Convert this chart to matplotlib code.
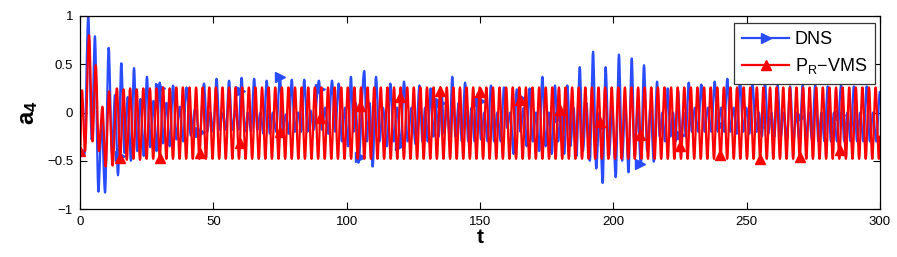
import numpy as np
import matplotlib
matplotlib.use("Agg")
import matplotlib.pyplot as plt
from matplotlib.path import Path
from matplotlib.patches import PathPatch
from matplotlib.lines import Line2D

plt.rcParams['font.family'] = ['Liberation Sans', 'DejaVu Sans']
plt.rcParams['mathtext.fontset'] = 'custom'
plt.rcParams['mathtext.rm'] = 'Liberation Sans'
plt.rcParams['mathtext.bf'] = 'Liberation Sans:bold'

# ---------------- DNS (blue) : extrema ----------------
dns_t = [0.0, 1.6, 3.1, 4.4, 5.6, 6.9, 8.1, 9.4,
         10.75, 12.0, 13.1, 14.25, 15.5, 16.7, 17.9, 19.1,
         20.25, 21.45, 22.7, 23.9, 25.1, 26.3, 27.5, 28.7,
         29.9, 31.15, 32.4, 33.65, 34.9, 36.15, 37.4, 38.65,
         39.9, 41.55, 43.2, 44.85, 46.5, 47.68, 48.85, 50.03,
         51.2, 52.38, 53.55, 54.73, 55.9, 57.08, 58.25, 59.43,
         60.6, 61.78, 62.95, 64.13, 65.3, 66.48, 67.65, 68.83,
         70.0, 71.18, 72.35, 73.53, 75.0, 76.1, 77.2, 78.3,
         79.4, 80.58, 81.75, 82.93, 84.1, 85.28, 86.45, 87.63,
         89.6, 90.78, 91.95, 93.13, 94.5, 95.75, 97.0, 98.2, 99.4, 100.5,
         101.6, 102.6, 103.4, 104.4, 106.6, 107.6, 108.6, 109.75,
         111.0, 112.3, 113.6, 115.1, 116.4, 117.6, 118.9, 120.2,
         121.5, 122.9, 124.3, 125.9, 127.3, 128.4, 129.4, 130.4,
         131.5, 132.5, 133.5, 134.5, 135.6, 136.6, 137.6, 138.6,
         139.6, 140.8, 142.0, 143.2, 144.4, 145.6, 146.8, 148.0,
         149.2, 150.4, 151.6, 152.9, 154.1, 155.3, 156.5, 157.8,
         159.0, 160.2, 161.4, 162.6, 163.8, 165.2, 166.4, 167.5,
         168.6, 169.8, 171.0, 172.2, 173.4, 174.6, 175.8, 176.9,
         178.1, 179.3, 180.4, 181.6, 182.75, 183.9, 185.1, 186.2,
         187.4, 188.6, 189.9, 191.2, 192.4, 193.6, 194.8, 196.0,
         197.1, 198.4, 199.6, 200.9, 202.1, 203.3, 204.5, 205.7,
         206.9, 208.0, 209.1, 210.3, 211.5, 212.7, 213.9, 215.2,
         216.4, 217.4, 218.4, 219.4, 220.4, 221.4, 222.4, 223.3,
         224.3, 225.3, 226.3, 227.2, 228.25, 229.45, 230.6, 231.8,
         233.0, 234.25, 235.5, 236.75, 238.0, 239.2, 240.4, 241.55,
         242.75, 243.9, 245.1, 246.3, 247.5, 248.7, 249.85, 251.0,
         252.2, 253.4, 254.55, 255.7, 256.9, 258.1, 259.25, 260.4,
         261.6, 262.8, 263.95, 265.1, 266.3, 267.5, 268.65, 269.8,
         271.0, 272.2, 273.35, 274.5, 275.7, 276.9, 278.05, 279.2,
         280.4, 281.6, 282.75, 283.9, 285.4, 286.6, 287.8, 289.0,
         290.2, 291.4, 292.6, 293.8, 295.0, 296.2, 297.4, 298.6, 300.0]
dns_y = [-0.40, -0.45, 1.00, -0.28, 0.79, -0.82, -0.10, -0.83,
         0.67, -0.42, 0.18, -0.65, 0.51, -0.42, 0.16, -0.50,
         0.46, -0.40, 0.14, -0.45, 0.37, -0.36, 0.12, -0.40,
         0.31, -0.32, 0.10, -0.35, 0.28, -0.28, 0.06, -0.30,
         0.26, -0.24, 0.04, -0.25, 0.30, -0.20, 0.00, -0.20,
         0.35, -0.18, 0.00, -0.18, 0.33, -0.18, 0.02, -0.18,
         0.36, -0.20, 0.00, -0.20, 0.35, -0.18, 0.00, -0.22,
         0.33, -0.22, 0.00, -0.20, 0.37, -0.20, -0.02, -0.22,
         0.34, -0.20, 0.00, -0.20, 0.34, -0.20, 0.02, -0.18,
         0.33, -0.18, 0.05, -0.22, 0.33, -0.20, 0.30, -0.30, 0.05, -0.35,
         0.37, -0.20, 0.10, -0.52, 0.43, -0.30, 0.10, -0.56,
         0.37, -0.30, 0.05, -0.35, 0.30, -0.30, 0.05, -0.36,
         0.32, -0.30, 0.05, -0.33, 0.28, -0.30, 0.05, -0.30,
         0.25, -0.25, 0.05, -0.25, 0.22, -0.22, 0.05, -0.25,
         0.37, -0.25, 0.10, -0.30, 0.31, -0.30, 0.05, -0.30,
         0.20, -0.28, 0.00, -0.30, 0.28, -0.30, 0.00, -0.30,
         0.26, -0.16, 0.00, -0.43, 0.24, -0.20, 0.05, -0.35,
         0.25, -0.30, 0.00, -0.40, 0.37, -0.35, 0.00, -0.43,
         0.28, -0.30, 0.05, -0.43, 0.28, -0.35, 0.05, -0.45,
         0.47, -0.40, 0.10, -0.50, 0.63, -0.58, 0.00, -0.73,
         0.47, -0.45, 0.05, -0.67, 0.60, -0.50, 0.10, -0.62,
         0.56, -0.45, 0.05, -0.55, 0.49, -0.40, 0.05, -0.51,
         0.32, -0.25, 0.00, -0.30, 0.25, -0.25, 0.00, -0.30,
         0.22, -0.30, 0.00, -0.25, 0.31, -0.20, 0.05, -0.20,
         0.29, -0.20, 0.05, -0.20, 0.32, -0.20, 0.05, -0.20,
         0.35, -0.20, 0.05, -0.22, 0.33, -0.20, 0.05, -0.22,
         0.30, -0.20, 0.00, -0.25, 0.30, -0.22, 0.00, -0.25,
         0.28, -0.25, 0.00, -0.28, 0.27, -0.30, 0.00, -0.30,
         0.28, -0.25, 0.00, -0.28, 0.28, -0.30, 0.00, -0.30,
         0.27, -0.30, 0.00, -0.30, 0.28, -0.30, 0.00, -0.30,
         0.27, -0.30, 0.00, -0.30, 0.27, -0.30, 0.00, -0.30, 0.22]
dns_mark_t = [0, 15, 30, 45, 60, 75, 90, 105, 120, 135,
              150, 165, 180, 195, 210, 225, 240, 255, 270, 285]
dns_mark_y = [-0.40, -0.45, 0.25, -0.20, 0.22, 0.37, 0.24, -0.46, -0.34, 0.10,
              0.12, 0.15, -0.05, -0.15, -0.53, -0.23, -0.13, -0.15, -0.05, -0.03]

# ---------------- P_R-VMS (red) : extrema ----------------
vms_t = [0.0, 0.75, 1.9, 3.4, 4.7, 5.9, 7.1, 8.4, 9.6, 10.9, 12.2, 13.84,
         15.08, 16.32, 17.55, 18.79, 20.03, 21.26, 22.50, 23.74, 24.97, 26.21,
         27.45, 28.69, 29.92, 31.16, 32.40, 33.63, 34.87, 36.11, 37.34, 38.58,
         39.82, 41.06, 42.29, 43.53, 44.77, 46.00, 47.24, 48.48, 49.71, 50.95,
         52.19, 53.43, 54.66, 55.90, 57.14, 58.37, 59.61, 60.85, 62.08, 63.32,
         64.56, 65.80, 67.03, 68.27, 69.51, 70.74, 71.98, 73.22, 74.45, 75.69,
         76.93, 78.17, 79.40, 80.64, 81.88, 83.11, 84.35, 85.59, 86.82, 88.06,
         89.30, 90.54, 91.77, 93.01, 94.25, 95.48, 96.72, 97.96, 99.19, 100.43,
         101.67, 102.91, 104.14, 105.38, 106.62, 107.85, 109.09, 110.33, 111.56, 112.80,
         114.04, 115.28, 116.51, 117.75, 118.99, 120.22, 121.46, 122.70, 123.93, 125.17,
         126.41, 127.65, 128.88, 130.12, 131.36, 132.59, 133.83, 135.07, 136.30, 137.54,
         138.78, 140.02, 141.25, 142.49, 143.73, 144.96, 146.20, 147.44, 148.67, 149.91,
         151.15, 152.39, 153.62, 154.86, 156.10, 157.33, 158.57, 159.81, 161.04, 162.28,
         163.52, 164.76, 165.99, 167.23, 168.47, 169.70, 170.94, 172.18, 173.41, 174.65,
         175.89, 177.13, 178.36, 179.60, 180.84, 182.07, 183.31, 184.55, 185.78, 187.02,
         188.26, 189.50, 190.73, 191.97, 193.21, 194.44, 195.68, 196.92, 198.15, 199.39,
         200.63, 201.87, 203.10, 204.34, 205.58, 206.81, 208.05, 209.29, 210.52, 211.76,
         213.00, 214.24, 215.47, 216.71, 217.95, 219.18, 220.42, 221.66, 222.89, 224.13,
         225.37, 226.61, 227.84, 229.08, 230.32, 231.55, 232.79, 234.03, 235.26, 236.50,
         237.74, 238.98, 240.21, 241.45, 242.69, 243.92, 245.16, 246.40, 247.63, 248.87,
         250.11, 251.35, 252.58, 253.82, 255.06, 256.29, 257.53, 258.77, 260.00, 261.24,
         262.48, 263.72, 264.95, 266.19, 267.43, 268.66, 269.90, 271.14, 272.37, 273.61,
         274.85, 276.09, 277.32, 278.56, 279.80, 281.03, 282.27, 283.51, 284.74, 285.98,
         287.22, 288.46, 289.69, 290.93, 292.17, 293.40, 294.64, 295.88, 297.11, 298.35,
         299.59, 300.00]
vms_y = [-0.40, 0.23, -0.40, 0.80, -0.30, 0.49, -0.40, 0.06, -0.56, 0.22, -0.55, 0.25,
         -0.48, 0.24, -0.49, 0.25, -0.48, 0.24, -0.49, 0.25, -0.48, 0.25,
         -0.48, 0.25, -0.48, 0.26, -0.48, 0.25, -0.48, 0.26, -0.48, 0.26,
         -0.48, 0.26, -0.48, 0.26, -0.48, 0.26, -0.48, 0.26, -0.48, 0.26,
         -0.48, 0.26, -0.48, 0.26, -0.48, 0.26, -0.48, 0.26, -0.48, 0.26,
         -0.48, 0.26, -0.48, 0.26, -0.48, 0.26, -0.48, 0.26, -0.48, 0.26,
         -0.48, 0.26, -0.48, 0.26, -0.48, 0.26, -0.48, 0.26, -0.48, 0.26,
         -0.48, 0.26, -0.48, 0.26, -0.48, 0.26, -0.48, 0.26, -0.48, 0.26,
         -0.48, 0.26, -0.48, 0.26, -0.48, 0.26, -0.48, 0.26, -0.48, 0.26,
         -0.48, 0.26, -0.48, 0.26, -0.48, 0.26, -0.48, 0.26, -0.48, 0.26,
         -0.48, 0.26, -0.48, 0.26, -0.48, 0.26, -0.48, 0.26, -0.48, 0.26,
         -0.48, 0.26, -0.48, 0.26, -0.48, 0.26, -0.48, 0.26, -0.48, 0.26,
         -0.48, 0.26, -0.48, 0.26, -0.48, 0.26, -0.48, 0.26, -0.48, 0.26,
         -0.48, 0.26, -0.48, 0.26, -0.48, 0.26, -0.48, 0.26, -0.48, 0.26,
         -0.48, 0.26, -0.48, 0.26, -0.48, 0.26, -0.48, 0.26, -0.48, 0.26,
         -0.48, 0.26, -0.48, 0.26, -0.48, 0.26, -0.48, 0.26, -0.48, 0.26,
         -0.48, 0.26, -0.48, 0.26, -0.48, 0.26, -0.48, 0.26, -0.48, 0.26,
         -0.48, 0.26, -0.48, 0.26, -0.48, 0.26, -0.48, 0.26, -0.48, 0.26,
         -0.48, 0.26, -0.48, 0.26, -0.48, 0.26, -0.48, 0.26, -0.48, 0.26,
         -0.48, 0.26, -0.48, 0.26, -0.48, 0.26, -0.48, 0.26, -0.48, 0.26,
         -0.48, 0.26, -0.48, 0.26, -0.48, 0.26, -0.48, 0.26, -0.48, 0.26,
         -0.48, 0.26, -0.48, 0.26, -0.48, 0.26, -0.48, 0.26, -0.48, 0.26,
         -0.48, 0.26, -0.48, 0.26, -0.48, 0.26, -0.48, 0.26, -0.48, 0.26,
         -0.48, 0.26, -0.48, 0.26, -0.48, 0.26, -0.48, 0.26, -0.48, 0.26,
         -0.48, -0.24]
vms_mark_t = [0, 15, 30, 45, 60, 75, 90, 105, 120, 135,
              150, 165, 180, 195, 210, 225, 240, 255, 270, 285]
vms_mark_y = [-0.40, -0.47, -0.47, -0.42, -0.32, -0.20, -0.06, 0.07, 0.16, 0.22,
              0.21, 0.13, 0.03, -0.10, -0.23, -0.35, -0.44, -0.48, -0.46, -0.39]

xticks = [0, 50, 100, 150, 200, 250, 300]
yticks = [-1, -0.5, 0, 0.5, 1]
ytick_labels = ['\u22121', '\u22120.5', '0', '0.5', '1']
labels = ['DNS', 'P$_\\mathrm{R}$\u2212VMS']


def smooth_path(t, y):
    """Smooth curve through the read extrema (horizontal tangent at each)."""
    t = np.asarray(t, float)
    y = np.asarray(y, float)
    verts = [(t[0], y[0])]
    codes = [Path.MOVETO]
    for i in range(len(t) - 1):
        dt = t[i + 1] - t[i]
        verts += [(t[i] + dt / 3, y[i]), (t[i + 1] - dt / 3, y[i + 1]),
                  (t[i + 1], y[i + 1])]
        codes += [Path.CURVE4] * 3
    return Path(verts, codes)


fig = plt.figure(figsize=(8.97, 2.57), dpi=100)
ax = fig.add_axes([80 / 897, 1 - 209 / 257, 800 / 897, 193 / 257])

blue = '#2a4cff'
red = '#ff0000'
lw = 1.6
ms = 7.5

ax.add_patch(PathPatch(smooth_path(dns_t, dns_y), facecolor='none',
                       edgecolor=blue, lw=lw, joinstyle='round', zorder=2))
ax.plot(dns_mark_t, dns_mark_y, linestyle='none', marker='>', ms=ms,
        color=blue, zorder=2.1)
ax.add_patch(PathPatch(smooth_path(vms_t, vms_y), facecolor='none',
                       edgecolor=red, lw=lw, joinstyle='round', zorder=2.2))
ax.plot(vms_mark_t, vms_mark_y, linestyle='none', marker='^', ms=ms,
        color=red, zorder=2.3)

ax.set_xlim(0, 300)
ax.set_ylim(-1, 1)
ax.set_xticks(xticks)
ax.set_yticks(yticks)
ax.set_yticklabels(ytick_labels)
ax.tick_params(direction='in', length=5, width=0.8, top=True, right=True,
               labelsize=9.5, pad=5, colors='black')
for s in ax.spines.values():
    s.set_linewidth(0.9)
    s.set_zorder(3)

ax.set_xlabel('t', fontsize=15, fontweight='bold', labelpad=0)
ax.set_ylabel('$\\mathbf{a_4}$', fontsize=17, labelpad=5)

h1 = Line2D([], [], color=blue, lw=lw, marker='>', ms=ms)
h2 = Line2D([], [], color=red, lw=lw, marker='^', ms=ms)
leg = ax.legend(handles=[h1, h2], labels=labels, loc='upper right',
                bbox_to_anchor=(0.994, 0.964), borderaxespad=0,
                fontsize=13, handlelength=2.6, handletextpad=0.3,
                labelspacing=0.45, borderpad=0.45, fancybox=False,
                framealpha=1, edgecolor='#333333')
leg.get_frame().set_linewidth(0.9)
leg.set_zorder(5)

fig.savefig('out.png', dpi=100)
